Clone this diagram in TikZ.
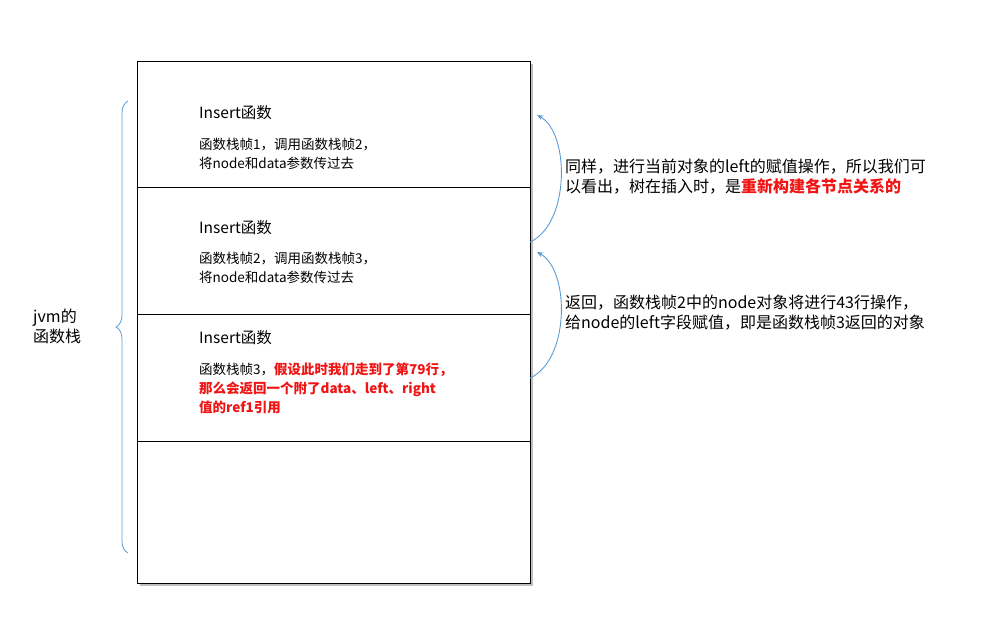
\documentclass[tikz,border=0pt]{standalone}
\usepackage{fontspec}
\setmainfont{Noto Sans CJK SC}
\usetikzlibrary{decorations.pathreplacing,arrows.meta}
\definecolor{arr}{RGB}{91,155,213}
\definecolor{rd}{RGB}{240,20,20}
\begin{document}
\begin{tikzpicture}[x=1pt,y=-1pt,
  title/.style={anchor=west,font=\fontsize{15.5}{18}\selectfont,inner sep=0},
  sub/.style={anchor=north west,align=left,font=\fontsize{13.5}{19}\selectfont,inner sep=0},
  note/.style={anchor=north west,align=left,font=\fontsize{16}{20}\selectfont,inner sep=0},
  conn/.style={arr,line width=0.9pt,-{Stealth[length=6pt,width=5pt]}}]
\useasboundingbox (0,0) rectangle (983,630);
\fill[black!25] (140,64) rectangle (533,586);
\draw[fill=white,line width=0.8pt] (137,61) rectangle (530,583);
\foreach \y in {187,314,441} \draw[line width=0.8pt] (137,\y) -- (530,\y);
\node[title] (t1) at (199,113) {Insert函数};
\node[sub] (s1) at (199,138) {函数栈帧1，调用函数栈帧2，\\将node和data参数传过去};
\node[title] (t2) at (199,228) {Insert函数};
\node[sub] (s2) at (199,252) {函数栈帧2，调用函数栈帧3，\\将node和data参数传过去};
\node[title] (t3) at (199,338) {Insert函数};
\node[sub] (s3) at (199,363) {函数栈帧3，\textcolor{rd}{\bfseries 假设此时我们走到了第79行，}\\\textcolor{rd}{\bfseries 那么会返回一个附了data、left、right}\\\textcolor{rd}{\bfseries 值的ref1引用}};
\draw[arr,line width=0.8pt,decorate,decoration={brace,amplitude=12pt,mirror,aspect=0.5}] (128,101) -- (128,553);
\node[note,anchor=north west] (jvm) at (33,309) {jvm的\\函数栈};
\coordinate (a1s) at (530,378);
\coordinate (a1e) at (537,252);
\coordinate (a2s) at (530,242);
\coordinate (a2e) at (537,115);
\draw[conn] (a1s) .. controls (570,360) and (570,270) .. (a1e);
\draw[conn] (a2s) .. controls (570,224) and (570,133) .. (a2e);
\node[note] (n1) at (565,159) {同样，进行当前对象的left的赋值操作，所以我们可\\以看出，树在插入时，是\textcolor{rd}{\bfseries 重新构建各节点关系的}};
\node[note] (n2) at (565,295) {返回，函数栈帧2中的node对象将进行43行操作，\\给node的left字段赋值，即是函数栈帧3返回的对象};
\end{tikzpicture}
\end{document}
